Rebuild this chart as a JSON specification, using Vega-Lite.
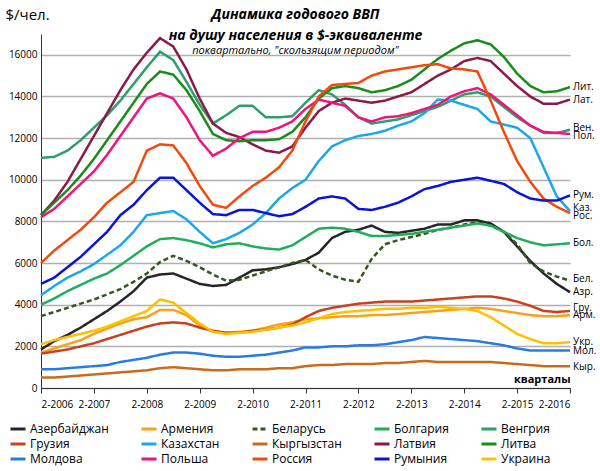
{
"$schema":"https://vega.github.io/schema/vega-lite/v6.json",
"width":529,"height":354,
"autosize":"none",
"padding":{"left":41,"top":34,"right":30,"bottom":83},
"background":"white",
"config":{"view":{"stroke":null},"font":"Open Sans"},
"title":{"text":["Динамика годового ВВП","на душу населения в $-эквиваленте"],"subtitle":"поквартально, \"скользящим периодом\"","anchor":"middle","frame":"group","dx":-10,"dy":53,"fontSize":14,"fontWeight":"bold","fontStyle":"italic","lineHeight":21,"subtitleFontSize":11,"subtitleFontStyle":"italic","subtitleColor":"#000","color":"#000","subtitlePadding":2},
"datasets":{
"series":[
{"c":"Азербайджан","q":[0,1,2,3,4,5,6,7,8,9,10,11,12,13,14,15,16,17,18,19,20,21,22,23,24,25,26,27,28,29,30,31,32,33,34,35,36,37,38,39,40],"v":[1850,2250,2550,2900,3300,3700,4150,4650,5300,5450,5500,5250,5000,4900,4950,5300,5650,5700,5800,5950,6150,6500,7200,7500,7600,7800,7500,7450,7550,7650,7850,7850,8050,8050,7900,7500,6800,6100,5500,5000,4600]},
{"c":"Армения","q":[0,1,2,3,4,5,6,7,8,9,10,11,12,13,14,15,16,17,18,19,20,21,22,23,24,25,26,27,28,29,30,31,32,33,34,35,36,37,38,39,40],"v":[1700,1900,2100,2300,2600,2850,3100,3300,3400,3750,3750,3500,3000,2700,2650,2700,2750,2900,3050,3150,3300,3350,3400,3450,3450,3500,3500,3550,3600,3650,3700,3750,3800,3850,3800,3700,3600,3500,3450,3450,3500]},
{"c":"Беларусь","q":[0,1,2,3,4,5,6,7,8,9,10,11,12,13,14,15,16,17,18,19,20,21,22,23,24,25,26,27,28,29,30,31,32,33,34,35,36,37,38,39,40],"v":[3450,3650,3850,4050,4250,4500,4750,5100,5500,6050,6350,6100,5800,5450,5150,5200,5400,5600,5800,6000,6150,5700,5400,5200,5100,6200,6900,7100,7250,7400,7600,7700,7850,7950,7800,7500,6900,6000,5600,5350,5150]},
{"c":"Болгария","q":[0,1,2,3,4,5,6,7,8,9,10,11,12,13,14,15,16,17,18,19,20,21,22,23,24,25,26,27,28,29,30,31,32,33,34,35,36,37,38,39,40],"v":[4000,4300,4650,4950,5250,5500,5900,6350,6800,7150,7200,7100,6950,6750,6900,6950,6800,6700,6650,6850,7250,7650,7700,7650,7500,7300,7300,7350,7400,7500,7600,7700,7800,7900,7800,7500,7200,7000,6850,6900,6950]},
{"c":"Венгрия","q":[0,1,2,3,4,5,6,7,8,9,10,11,12,13,14,15,16,17,18,19,20,21,22,23,24,25,26,27,28,29,30,31,32,33,34,35,36,37,38,39,40],"v":[11050,11100,11400,11900,12500,13100,13800,14600,15400,16150,15750,14700,13600,12700,13100,13550,13550,13000,13000,13050,13700,14300,14100,13600,13000,12700,12800,12900,13100,13300,13500,13800,14100,14200,14000,13500,13000,12600,12250,12250,12400]},
{"c":"Грузия","q":[0,1,2,3,4,5,6,7,8,9,10,11,12,13,14,15,16,17,18,19,20,21,22,23,24,25,26,27,28,29,30,31,32,33,34,35,36,37,38,39,40],"v":[1650,1750,1850,2000,2150,2350,2550,2750,2950,3100,3150,3100,2900,2750,2650,2650,2750,2800,2900,3050,3400,3700,3850,3950,4050,4100,4150,4150,4150,4200,4250,4300,4350,4400,4400,4300,4150,3950,3700,3650,3700]},
{"c":"Казахстан","q":[0,1,2,3,4,5,6,7,8,9,10,11,12,13,14,15,16,17,18,19,20,21,22,23,24,25,26,27,28,29,30,31,32,33,34,35,36,37,38,39,40],"v":[4450,4900,5300,5600,5950,6400,6850,7500,8300,8400,8500,8100,7500,6950,7150,7450,7850,8400,9100,9600,10000,10900,11600,11900,12100,12200,12350,12600,12800,13200,13850,13800,13600,13400,12800,12650,12500,12000,10600,9200,8500]},
{"c":"Кыргызстан","q":[0,1,2,3,4,5,6,7,8,9,10,11,12,13,14,15,16,17,18,19,20,21,22,23,24,25,26,27,28,29,30,31,32,33,34,35,36,37,38,39,40],"v":[500,500,550,600,650,700,750,800,850,950,1000,950,900,850,850,900,900,900,950,950,1050,1100,1100,1150,1150,1150,1200,1200,1250,1300,1250,1250,1250,1250,1250,1200,1150,1100,1050,1050,1050]},
{"c":"Латвия","q":[0,1,2,3,4,5,6,7,8,9,10,11,12,13,14,15,16,17,18,19,20,21,22,23,24,25,26,27,28,29,30,31,32,33,34,35,36,37,38,39,40],"v":[8300,9000,9900,11000,12100,13200,14300,15300,16100,16800,16400,15300,13900,12700,12250,12050,11700,11400,11300,11600,12500,13300,13700,13900,13800,13700,13800,14000,14200,14600,15000,15300,15700,15850,15700,15100,14500,14000,13650,13650,13850]},
{"c":"Литва","q":[0,1,2,3,4,5,6,7,8,9,10,11,12,13,14,15,16,17,18,19,20,21,22,23,24,25,26,27,28,29,30,31,32,33,34,35,36,37,38,39,40],"v":[8300,8900,9500,10200,11000,11900,12800,13700,14600,15200,15050,14300,13300,12200,11900,11850,11900,11900,11950,12300,13000,13900,14400,14500,14400,14200,14300,14500,14800,15300,15800,16200,16550,16700,16500,15900,15100,14500,14200,14250,14450]},
{"c":"Молдова","q":[0,1,2,3,4,5,6,7,8,9,10,11,12,13,14,15,16,17,18,19,20,21,22,23,24,25,26,27,28,29,30,31,32,33,34,35,36,37,38,39,40],"v":[900,900,950,1000,1050,1100,1250,1350,1450,1600,1700,1700,1650,1550,1500,1500,1550,1600,1700,1800,1950,1950,2000,2000,2050,2050,2100,2200,2300,2450,2400,2350,2300,2250,2150,2050,1900,1800,1800,1800,1800]},
{"c":"Польша","q":[0,1,2,3,4,5,6,7,8,9,10,11,12,13,14,15,16,17,18,19,20,21,22,23,24,25,26,27,28,29,30,31,32,33,34,35,36,37,38,39,40],"v":[8200,8600,9200,9800,10400,11200,12100,13000,13900,14150,13900,13000,11900,11150,11500,12000,12300,12300,12500,12800,13400,13850,13700,13550,13000,12800,13000,13050,13200,13400,13600,14000,14250,14400,14100,13600,13100,12600,12300,12250,12200]},
{"c":"Россия","q":[0,1,2,3,4,5,6,7,8,9,10,11,12,13,14,15,16,17,18,19,20,21,22,23,24,25,26,27,28,29,30,31,32,33,34,35,36,37,38,39,40],"v":[6000,6600,7100,7600,8200,8900,9400,9900,11400,11700,11650,10800,9700,8800,8650,9200,9700,10100,10600,11400,12800,14000,14550,14600,14650,15000,15200,15300,15400,15500,15550,15350,15300,15200,13800,12300,10900,9900,9100,8700,8400]},
{"c":"Румыния","q":[0,1,2,3,4,5,6,7,8,9,10,11,12,13,14,15,16,17,18,19,20,21,22,23,24,25,26,27,28,29,30,31,32,33,34,35,36,37,38,39,40],"v":[5000,5300,5800,6300,6900,7500,8300,8800,9500,10100,10100,9500,8900,8350,8300,8550,8550,8400,8250,8350,8700,9100,9200,9100,8600,8550,8700,8900,9200,9550,9700,9900,10000,10100,9950,9800,9400,9100,9000,9000,9250]},
{"c":"Украина","q":[0,1,2,3,4,5,6,7,8,9,10,11,12,13,14,15,16,17,18,19,20,21,22,23,24,25,26,27,28,29,30,31,32,33,34,35,36,37,38,39,40],"v":[2100,2300,2450,2600,2750,2950,3200,3450,3700,4250,4100,3600,3100,2700,2600,2650,2700,2800,2900,3000,3150,3350,3550,3650,3700,3750,3800,3800,3850,3850,3900,3850,3800,3700,3400,3000,2600,2350,2150,2150,2200]}
],
"labels":[
{"t":"Лит.","q":40,"v":14450},{"t":"Лат.","q":40,"v":13850},{"t":"Вен.","q":40,"v":12500},{"t":"Пол.","q":40,"v":12100},
{"t":"Рум.","q":40,"v":9250},{"t":"Каз.","q":40,"v":8650},{"t":"Рос.","q":40,"v":8250},{"t":"Бол.","q":40,"v":6950},
{"t":"Бел.","q":40,"v":5250},{"t":"Азр.","q":40,"v":4600},{"t":"Гру.","q":40,"v":3820},{"t":"Арм.","q":40,"v":3500},
{"t":"Укр.","q":40,"v":2200},{"t":"Мол.","q":40,"v":1800},{"t":"Кыр.","q":40,"v":1000}
]
},
"layer":[
{
"data":{"name":"series"},
"transform":[{"flatten":["q","v"]}],
"mark":{"type":"line","strokeWidth":2.5,"clip":false},
"encoding":{
"x":{"field":"q","type":"quantitative","scale":{"domain":[0,40],"nice":false,"zero":false},
 "axis":{"values":[0,1,2,3,4,5,6,7,8,9,10,11,12,13,14,15,16,17,18,19,20,21,22,23,24,25,26,27,28,29,30,31,32,33,34,35,36,37,38,39,40],
 "labelExpr":"datum.value % 4 == 0 ? '2-' + (2006 + datum.value/4) : ''","grid":false,"domainColor":"#333","tickColor":"#333","tickSize":5,
 "labelFont":"Open Sans","labelFontSize":10,"labelColor":"#000","labelPadding":6,
 "title":"кварталы","titleAnchor":"end","titleAlign":"right","titleBaseline":"bottom","titleY":-4,"titleFontSize":11,"titleFontWeight":"bold","titleColor":"#000"}},
"y":{"field":"v","type":"quantitative","scale":{"domain":[0,17000],"nice":false},
 "axis":{"values":[0,2000,4000,6000,8000,10000,12000,14000,16000],"format":"d","gridColor":"#b0b0b0","gridWidth":1.5,"domainColor":"#333","ticks":false,
 "labelFontSize":10,"labelColor":"#000","labelPadding":4,
 "title":"$/чел.","titleAngle":0,"titleX":-36,"titleY":-12,"titleAlign":"left","titleFontSize":15,"titleFontWeight":"normal","titleColor":"#000"}},
"color":{"field":"c","type":"nominal","scale":{"range":["#262626","#F7A21B","#375623","#1FAF5A","#2E9E6B","#C8421E","#1CA8E8","#C96A1C","#8B1A48","#198C1E","#2A7BE0","#F0147A","#F04A0E","#0A14D8","#FFC000"]},
 "legend":{"title":null,"orient":"none","direction":"horizontal","legendX":-32,"legendY":386,"columns":5,"symbolType":"stroke","symbolStrokeWidth":3,"symbolSize":225,"labelFontSize":12,"labelFont":"Open Sans","columnPadding":26,"rowPadding":-1,"symbolOffset":0,"labelOffset":3}},
"strokeDash":{"field":"c","type":"nominal","scale":{"range":[[1,0],[1,0],[5,3],[1,0],[1,0],[1,0],[1,0],[1,0],[1,0],[1,0],[1,0],[1,0],[1,0],[1,0],[1,0]]}}
}
},
{
"data":{"name":"labels"},
"mark":{"type":"text","align":"left","dx":3,"fontSize":10,"font":"Open Sans","color":"#000"},
"encoding":{"x":{"field":"q","type":"quantitative"},"y":{"field":"v","type":"quantitative"},"text":{"field":"t"}}
}
]
}
